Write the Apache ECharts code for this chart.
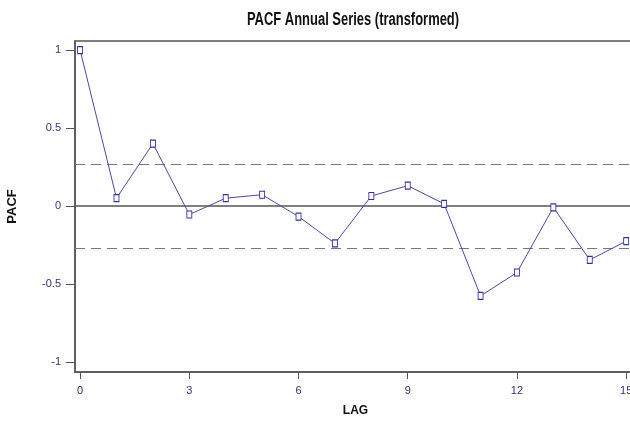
<!DOCTYPE html>
<html>
<head>
<meta charset="utf-8">
<script src="https://cdn.jsdelivr.net/npm/echarts@6/dist/echarts.min.js"></script>
<style>
  html, body { margin: 0; padding: 0; background: #fff; }
  #chart { width: 630px; height: 430px; }
</style>
</head>
<body>
<div id="chart"></div>
<script>
// Partial autocorrelation of the transformed annual series, lags 0..15
const lags = [0, 1, 2, 3, 4, 5, 6, 7, 8, 9, 10, 11, 12, 13, 14, 15];
const pacf = [1.0, 0.05, 0.40, -0.055, 0.05, 0.072, -0.068, -0.24, 0.064, 0.13, 0.013, -0.577, -0.427, -0.009, -0.346, -0.226];
// Approximate 95% significance bounds
const bound = 0.27;
const xTicks = [0, 3, 6, 9, 12, 15];
const yTicks = [-1, -0.5, 0, 0.5, 1];

const sans = '"Liberation Sans", Arial, sans-serif';
const tickColor = '#33337a';

const chart = echarts.init(document.getElementById('chart'));
chart.setOption({
  animation: false,
  backgroundColor: '#ffffff',
  // Condensed bold title: regular sans squeezed horizontally
  graphic: [{
    type: 'text',
    x: 353, y: 20,
    scaleX: 0.72,
    style: {
      text: 'PACF Annual Series (transformed)',
      font: 'bold 18px ' + sans,
      fill: '#111',
      align: 'center',
      verticalAlign: 'middle'
    }
  }],
  grid: {
    left: 75, top: 41, right: -6, bottom: 58,
    outerBoundsMode: 'none',
    show: true, borderColor: '#555', borderWidth: 1.5, backgroundColor: 'transparent'
  },
  xAxis: {
    type: 'value',
    min: -0.14,
    max: 15.27,
    name: 'LAG',
    nameLocation: 'middle',
    nameGap: 33,
    nameTextStyle: { fontFamily: sans, fontWeight: 'bold', fontSize: 12, color: '#111' },
    axisLine: { show: true, onZero: false, lineStyle: { color: '#555', width: 1.5 } },
    axisTick: { show: true, length: 7, customValues: xTicks, lineStyle: { color: '#555' } },
    axisLabel: { customValues: xTicks, fontFamily: sans, fontSize: 11, color: tickColor, margin: 13 },
    splitLine: { show: false }
  },
  yAxis: {
    type: 'value',
    min: -1.065,
    max: 1.058,
    name: 'PACF',
    nameLocation: 'middle',
    nameRotate: 90,
    nameGap: 56,
    nameTextStyle: { fontFamily: sans, fontWeight: 'bold', fontSize: 13, color: '#111' },
    axisLine: { show: true, onZero: false, lineStyle: { color: '#555', width: 1.5 } },
    axisTick: { show: true, length: 9, customValues: yTicks, lineStyle: { color: '#555' } },
    axisLabel: {
      customValues: yTicks,
      fontFamily: sans, fontSize: 11, color: tickColor, margin: 14,
      formatter: v => String(v)
    },
    splitLine: { show: false }
  },
  series: [{
    type: 'line',
    data: lags.map((l, i) => [l, pacf[i]]),
    symbol: 'rect',
    symbolSize: [5, 7],
    itemStyle: { color: '#ffffff', borderColor: '#3030a0', borderWidth: 1 },
    lineStyle: { color: '#4a4aa8', width: 1 },
    z: 5,
    markLine: {
      silent: true,
      symbol: 'none',
      label: { show: false },
      data: [
        { yAxis: 0, lineStyle: { type: 'solid', color: '#555', width: 1.5 } },
        { yAxis: bound, lineStyle: { type: [10, 6], color: '#777', width: 1.2 } },
        { yAxis: -bound, lineStyle: { type: [10, 6], color: '#777', width: 1.2 } }
      ]
    }
  }]
});
</script>
</body>
</html>
